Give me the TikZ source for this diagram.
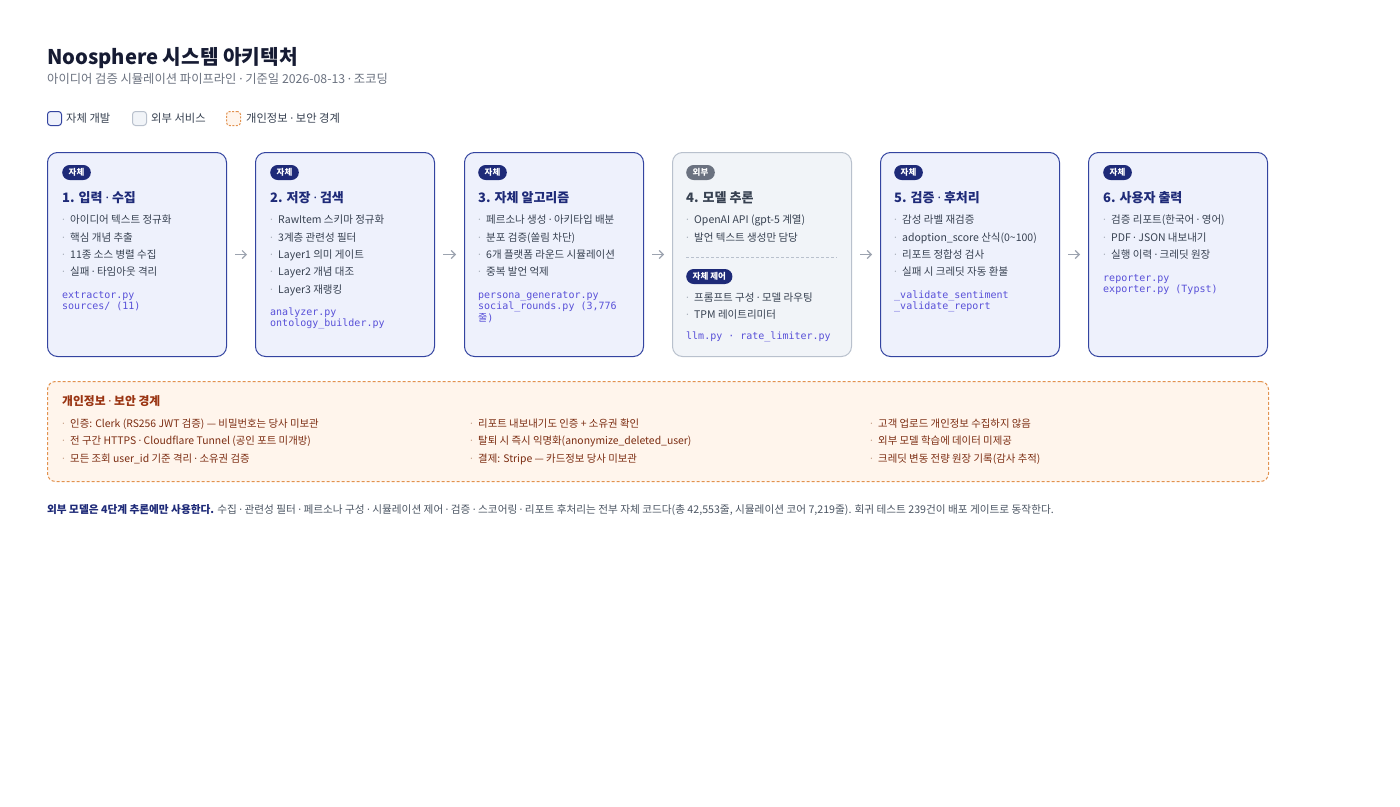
\documentclass[tikz,border=0pt]{standalone}
\usepackage{fontspec}
\setmainfont{Noto Sans CJK KR}
\newfontfamily\monof{DejaVu Sans Mono}
\newfontfamily\cjk{Noto Sans CJK KR}
\newfontfamily\latf{Noto Sans}
\newcommand\md{{\latf ·}}
\usetikzlibrary{arrows.meta}
\definecolor{navy}{HTML}{1E2A78}
\definecolor{navyb}{HTML}{3344A0}
\definecolor{boxf}{HTML}{EEF1FC}
\definecolor{grayf}{HTML}{F1F4F8}
\definecolor{grayb}{HTML}{B9C1CD}
\definecolor{grayt}{HTML}{6B7280}
\definecolor{bodyc}{HTML}{374151}
\definecolor{dotc}{HTML}{A8AFBA}
\definecolor{codec}{HTML}{5850D8}
\definecolor{titlec}{HTML}{161B33}
\definecolor{secf}{HTML}{FFF5EC}
\definecolor{secb}{HTML}{E2924F}
\definecolor{sech}{HTML}{9A3412}
\definecolor{sect}{HTML}{7C2D12}
\definecolor{secd}{HTML}{C9A38A}
\definecolor{footc}{HTML}{4B5563}
\definecolor{arrc}{HTML}{9CA3AF}
\newcommand\bitem[4]{%
  \node[dot] (#1d) at (#2,#3) {\md};
  \node[bul] (#1) at ({#2+8},#3) {#4};}
\newcommand\sitem[4]{%
  \node[sdot] (#1d) at (#2,#3) {\md};
  \node[stxt] (#1) at ({#2+8},#3) {#4};}
\begin{document}
\begin{tikzpicture}[x=1pt,y=-1pt,
  txt/.style={anchor=base west, inner sep=0pt},
  bul/.style={txt, text=bodyc, font=\fontsize{10.5}{12}\selectfont},
  dot/.style={txt, text=dotc, font=\fontsize{10.5}{12}\selectfont},
  stxt/.style={txt, text=sect, font=\fontsize{10.4}{12}\selectfont},
  sdot/.style={txt, text=secd, font=\fontsize{10.5}{12}\selectfont},
  code/.style={txt, text=codec, font=\monof\fontsize{10}{11.5}\selectfont},
  head/.style={txt, text=navy, font=\bfseries\fontsize{13}{15}\selectfont},
  badge/.style={anchor=west, fill=navy, text=white, rounded corners=7.5, minimum height=15, inner xsep=6.5, inner ysep=0, font=\bfseries\fontsize{8.5}{9}\selectfont},
  box/.style={anchor=north west, draw=navyb, fill=boxf, rounded corners=10, minimum width=179, minimum height=204, inner sep=0, line width=1},
  extbox/.style={box, draw=grayb, fill=grayf},
  arr/.style={draw=arrc, line width=1.2, -{Straight Barb[length=4,width=8]}, shorten <=8, shorten >=8},
  lgtxt/.style={txt, text=bodyc, font=\fontsize{11.3}{13}\selectfont},
  lgsq/.style={anchor=north west, minimum width=14, minimum height=14, inner sep=0, rounded corners=3, line width=1}
]
\useasboundingbox (0,0) rectangle (1400,806);
\fill[white] (0,0) rectangle (1400,806);

% title
\node[txt, text=titlec, font=\bfseries\fontsize{20.2}{24}\selectfont] (title) at (47,64) {Noosphere 시스템 아키텍처};
\node[txt, text=grayt, font=\fontsize{12.3}{14}\selectfont] (sub) at (47,83.5) {아이디어 검증 시뮬레이션 파이프라인 \md{} 기준일 2026-08-13 \md{} 조코딩};

% legend
\node[lgsq, draw=navyb, fill=boxf] (lg1) at (47,111) {};
\node[lgtxt] (lg1t) at (66,122) {자체 개발};
\node[lgsq, draw=grayb, fill=grayf] (lg2) at (132,111) {};
\node[lgtxt] (lg2t) at (151,122) {외부 서비스};
\node[lgsq, draw=secb, fill=secf, dashed, dash pattern=on 2 off 1.5] (lg3) at (226,111) {};
\node[lgtxt] (lg3t) at (246,122) {개인정보 \md{} 보안 경계};

% boxes
\node[box] (b1) at (47,152) {};
\node[box] (b2) at (255,152) {};
\node[box] (b3) at (464,152) {};
\node[extbox] (b4) at (672,152) {};
\node[box] (b5) at (880,152) {};
\node[box] (b6) at (1088,152) {};

\foreach \a/\b in {b1/b2,b2/b3,b3/b4,b4/b5,b5/b6}
  \draw[arr] (\a) -- (\b);

% box 1
\node[badge] (g1) at (62,172.5) {자체};
\node[head] (h1) at (62,202) {1. 입력 \md{} 수집};
\bitem{a1}{62}{223}{아이디어 텍스트 정규화}
\bitem{a2}{62}{241}{핵심 개념 추출}
\bitem{a3}{62}{258}{11종 소스 병렬 수집}
\bitem{a4}{62}{275}{실패 \md{} 타임아웃 격리}
\node[code] (c1a) at (62,298) {extractor.py};
\node[code] (c1b) at (62,309.5) {sources/ (11)};

% box 2
\node[badge] (g2) at (270,172.5) {자체};
\node[head] (h2) at (270,202) {2. 저장 \md{} 검색};
\bitem{e1}{270}{223}{RawItem 스키마 정규화}
\bitem{e2}{270}{241}{3계층 관련성 필터}
\bitem{e3}{270}{258}{Layer1 의미 게이트}
\bitem{e4}{270}{275}{Layer2 개념 대조}
\bitem{e5}{270}{293}{Layer3 재랭킹}
\node[code] (c2a) at (270,315) {analyzer.py};
\node[code] (c2b) at (270,326.5) {ontology\_builder.py};

% box 3
\node[badge] (g3) at (478,172.5) {자체};
\node[head] (h3) at (478,202) {3. 자체 알고리즘};
\bitem{f1}{478}{223}{페르소나 생성 \md{} 아키타입 배분}
\bitem{f2}{478}{241}{분포 검증(쏠림 차단)}
\bitem{f3}{478}{258}{6개 플랫폼 라운드 시뮬레이션}
\bitem{f4}{478}{275}{중복 발언 억제}
\node[code] (c3a) at (478,298) {persona\_generator.py};
\node[code] (c3b) at (478,309.5) {social\_rounds.py (3,776};
\node[code] (c3c) at (478,321) {{\cjk 줄})};

% box 4
\node[badge, fill=grayt] (g4) at (686,172.5) {외부};
\node[head, text=bodyc] (h4) at (686,202) {4. 모델 추론};
\bitem{m1}{686}{223}{OpenAI API (gpt-5 계열)}
\bitem{m2}{686}{241}{발언 텍스트 생성만 담당}
\coordinate (dl) at (686,257);
\coordinate (dr) at (837,257);
\draw[grayb, dashed, dash pattern=on 3 off 2, line width=0.8] (dl) -- (dr);
\node[badge] (g4b) at (686,276.5) {자체 제어};
\bitem{m3}{686}{301}{프롬프트 구성 \md{} 모델 라우팅}
\bitem{m4}{686}{318}{TPM 레이트리미터}
\node[code] (c4a) at (686,339) {llm.py · rate\_limiter.py};

% box 5
\node[badge] (g5) at (894,172.5) {자체};
\node[head] (h5) at (894,202) {5. 검증 \md{} 후처리};
\bitem{v1}{894}{223}{감성 라벨 재검증}
\bitem{v2}{894}{241}{adoption\_score 산식(0\textasciitilde 100)}
\bitem{v3}{894}{258}{리포트 정합성 검사}
\bitem{v4}{894}{275}{실패 시 크레딧 자동 환불}
\node[code] (c5a) at (894,298) {\_validate\_sentiment};
\node[code] (c5b) at (894,309.5) {\_validate\_report};

% box 6
\node[badge] (g6) at (1103,172.5) {자체};
\node[head] (h6) at (1103,202) {6. 사용자 출력};
\bitem{u1}{1103}{223}{검증 리포트(한국어 \md{} 영어)}
\bitem{u2}{1103}{241}{PDF \md{} JSON 내보내기}
\bitem{u3}{1103}{258}{실행 이력 \md{} 크레딧 원장}
\node[code] (c6a) at (1103,281) {reporter.py};
\node[code] (c6b) at (1103,292.5) {exporter.py (Typst)};

% security
\node[anchor=north west, draw=secb, fill=secf, dashed, dash pattern=on 3 off 2, rounded corners=8, minimum width=1221, minimum height=100, inner sep=0, line width=1] (sec) at (47,381) {};
\node[txt, text=sech, font=\bfseries\fontsize{11.8}{13}\selectfont] (sech) at (62,405.5) {개인정보 \md{} 보안 경계};
\sitem{s1}{62}{427}{인증: Clerk (RS256 JWT 검증) — 비밀번호는 당사 미보관}
\sitem{s2}{62}{444.5}{전 구간 HTTPS \md{} Cloudflare Tunnel (공인 포트 미개방)}
\sitem{s3}{62}{462}{모든 조회 user\_id 기준 격리 \md{} 소유권 검증}
\sitem{s4}{470}{427}{리포트 내보내기도 인증 + 소유권 확인}
\sitem{s5}{470}{444.5}{탈퇴 시 즉시 익명화(anonymize\_deleted\_user)}
\sitem{s6}{470}{462}{결제: Stripe — 카드정보 당사 미보관}
\sitem{s7}{870}{427}{고객 업로드 개인정보 수집하지 않음}
\sitem{s8}{870}{444.5}{외부 모델 학습에 데이터 미제공}
\sitem{s9}{870}{462}{크레딧 변동 전량 원장 기록(감사 추적)}

% footer
\node[txt, text=footc, font=\fontsize{10.65}{12}\selectfont] (foot) at (47,513.5) {{\color{navy}\bfseries 외부 모델은 4단계 추론에만 사용한다.} 수집 \md{} 관련성 필터 \md{} 페르소나 구성 \md{} 시뮬레이션 제어 \md{} 검증 \md{} 스코어링 \md{} 리포트 후처리는 전부 자체 코드다(총 42,553줄, 시뮬레이션 코어 7,219줄). 회귀 테스트 239건이 배포 게이트로 동작한다.};
\end{tikzpicture}
\end{document}
